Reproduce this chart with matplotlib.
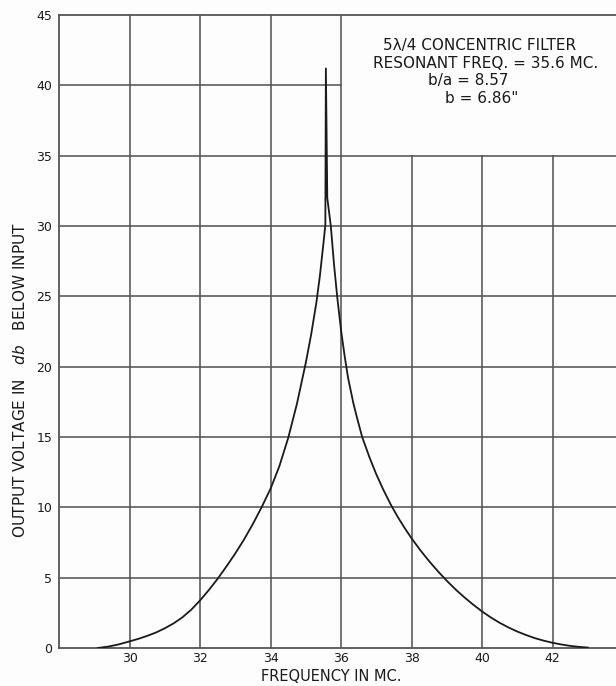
import matplotlib
matplotlib.use("Agg")
import matplotlib.pyplot as plt
from matplotlib.patches import Rectangle

# Attenuation curve of the 5λ/4 concentric filter (frequency in Mc, loss in db)
below_res_freq = [29.1, 29.4, 29.7, 30.0, 30.25, 30.5, 30.75, 31.0, 31.25, 31.5,
                  31.75, 32.0, 32.25, 32.5, 32.75, 33.0, 33.25, 33.5, 33.75, 34.0,
                  34.25, 34.5, 34.75, 35.0, 35.15, 35.3, 35.4, 35.5, 35.555, 35.57]
below_res_db = [0.0, 0.1, 0.26, 0.47, 0.65, 0.86, 1.1, 1.4, 1.75, 2.18,
                2.72, 3.38, 4.12, 4.92, 5.8, 6.72, 7.72, 8.82, 10.02, 11.32,
                12.92, 14.92, 17.37, 20.27, 22.25, 24.55, 26.45, 28.75, 30.05, 41.2]

above_res_freq = [35.61, 35.71, 35.8, 35.89, 36.0, 36.1, 36.2, 36.35, 36.45, 36.6,
                  36.8, 37.0, 37.2, 37.4, 37.6, 37.8, 38.0, 38.25, 38.5, 38.75,
                  39.0, 39.25, 39.5, 39.75, 40.0, 40.25, 40.5, 40.75, 41.0, 41.25,
                  41.5, 41.75, 42.0, 42.25, 42.5, 42.75, 43.0]
above_res_db = [32.0, 30.0, 27.3, 25.0, 22.6, 20.8, 19.2, 17.4, 16.4, 15.0,
                13.6, 12.35, 11.25, 10.25, 9.35, 8.55, 7.8, 6.95, 6.17, 5.45,
                4.78, 4.16, 3.6, 3.08, 2.6, 2.17, 1.79, 1.46, 1.17, 0.92,
                0.7, 0.52, 0.37, 0.25, 0.15, 0.08, 0.03]

x_ticks = [30, 32, 34, 36, 38, 40, 42]
x_grid = [30, 32, 34, 36, 38, 40, 42]
y_ticks = [0, 5, 10, 15, 20, 25, 30, 35, 40, 45]

title_lines = ["5λ/4 CONCENTRIC FILTER",
               "RESONANT FREQ. = 35.6 MC.",
               "b/a = 8.57",
               'b = 6.86"']

ink = "#1a1a1a"
grid_ink = "#555555"
paper = "#fdfdfd"

fig = plt.figure(figsize=(6.16, 6.86), dpi=100, facecolor=paper)
ax = fig.add_axes([0.0958, 0.0554, 0.9042, 0.9227])
ax.set_facecolor(paper)
ax.set_xlim(28, 43.8)
ax.set_ylim(0, 45)

# ruled grid
for gx in x_grid:
    ax.axvline(gx, color=grid_ink, lw=1.15, zorder=0.5)
for gy in y_ticks[1:-1]:
    ax.axhline(gy, color=grid_ink, lw=1.15, zorder=0.5)

# blank panel holding the filter data
ax.add_patch(Rectangle((36.04, 35.08), 8.0, 9.9, facecolor=paper,
                       edgecolor="none", zorder=1))

freq = below_res_freq + above_res_freq
db = below_res_db + above_res_db
ax.plot(freq, db, color=ink, lw=1.3, zorder=3, solid_joinstyle="round")

for s in ("left", "top", "bottom"):
    ax.spines[s].set_color(grid_ink)
    ax.spines[s].set_linewidth(1.3)
ax.spines["right"].set_visible(False)

ax.set_xticks(x_ticks)
ax.set_xticklabels([str(v) for v in x_ticks])
ax.set_yticks(y_ticks)
ax.set_yticklabels([str(v) for v in y_ticks])
ax.tick_params(length=0, labelsize=9, colors=ink)
ax.tick_params(axis="x", pad=3)
ax.tick_params(axis="y", pad=5)

ax.text(0.489, -0.045, "FREQUENCY IN MC.", transform=ax.transAxes,
        ha="center", va="center", fontsize=10.5, color=ink)
ax.text(-0.07, 0.423, r"OUTPUT VOLTAGE IN   $db$   BELOW INPUT",
        transform=ax.transAxes, rotation=90, ha="center", va="center",
        fontsize=11, color=ink)

ys = [42.85, 41.55, 40.35, 39.05]
xs = [39.94, 40.09, 39.62, 40.0]
for txt, tx, ty in zip(title_lines, xs, ys):
    ax.text(tx, ty, txt, ha="center", va="center", fontsize=11,
            color=ink, zorder=4)

fig.savefig("out.png", dpi=100, facecolor=fig.get_facecolor())
